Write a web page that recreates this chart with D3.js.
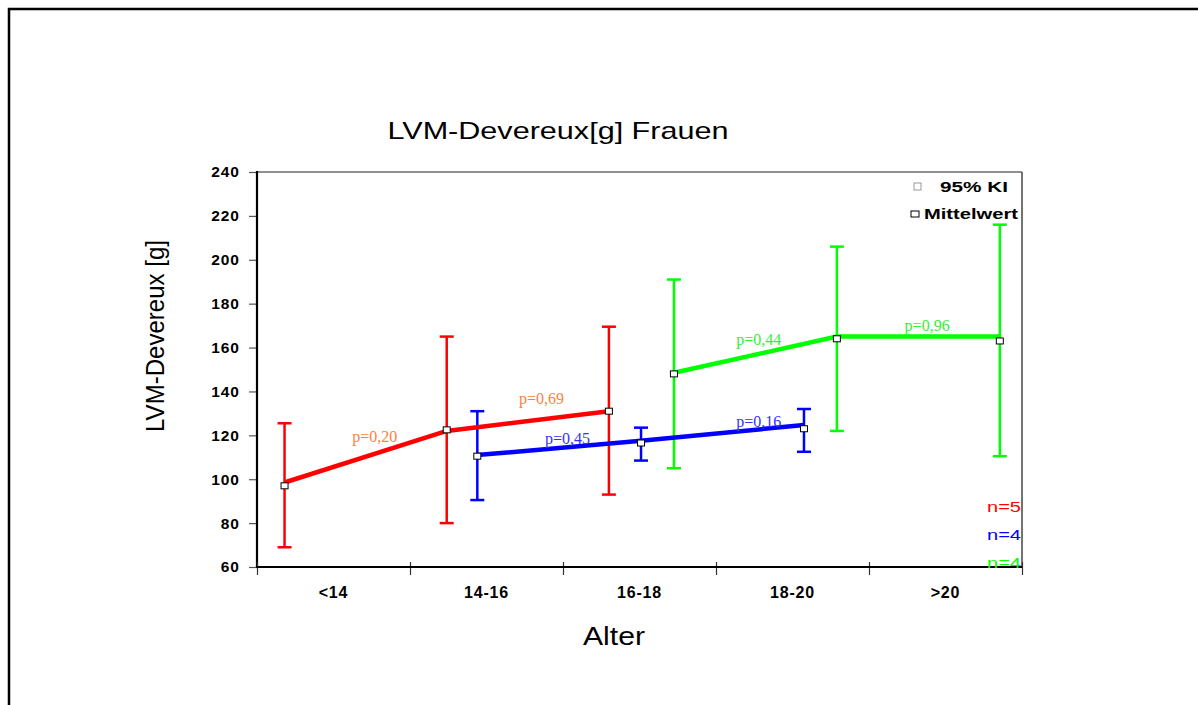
<!DOCTYPE html>
<html>
<head>
<meta charset="utf-8">
<script src="https://cdn.jsdelivr.net/npm/d3@7"></script>
<style>
  html, body { margin: 0; padding: 0; background: #fff; }
  svg { display: block; }
</style>
</head>
<body>
<svg id="chart"></svg>
<script>
// categories and tick values
const categories = ['<14', '14-16', '16-18', '18-20', '>20'];
const yTicks = [60, 80, 100, 120, 140, 160, 180, 200, 220, 240];

// series positions along the age axis (in category units) and values [g]
const redX = [0.18, 1.24, 2.30];
const redMean = [97, 122.5, 131];
const redLine = [98.5, 122, 131];
const redHi = [125.5, 165, 169.5];
const redLo = [69, 80, 93];

const blueX = [1.44, 2.51, 3.575];
const blueMean = [110.5, 116.5, 123];
const blueLine = [111, 117.5, 124.7];
const blueHi = [131, 123.5, 132];
const blueLo = [90.5, 108.5, 112.5];

const greenX = [2.725, 3.79, 4.855];
const greenMean = [148, 164, 163];
const greenLine = [148.5, 165, 165];
const greenHi = [191, 206, 216];
const greenLo = [105, 122, 110.5];

// p-value annotations
const pText = ['p=0,20', 'p=0,69', 'p=0,45', 'p=0,16', 'p=0,44', 'p=0,96'];
const pX = [0.77, 1.86, 2.03, 3.28, 3.28, 4.38];
const pY = [119.3, 137, 118.8, 126.5, 163.5, 170.3];
const pSeries = ['red', 'red', 'blue', 'blue', 'green', 'green'];

const nText = ['n=5', 'n=4', 'n=4'];

const width = 1198, height = 705;
const margin = { left: 257, right: 1022, top: 172, bottom: 567 };
const sans = "'Liberation Sans', Arial, sans-serif";
const serif = "'Liberation Serif', 'Times New Roman', serif";

const colors = { red: '#ff0000', blue: '#0000ff', green: '#00ff00' };
const labelColors = { red: '#ff8040', blue: '#3333ff', green: '#33f033' };

const svg = d3.select('#chart').attr('width', width).attr('height', height);

// outer frame (runs off right and bottom)
svg.append('path')
  .attr('d', `M9,${height + 5} L9,9 L${width + 5},9`)
  .attr('fill', 'none').attr('stroke', '#000').attr('stroke-width', 2.5);

const x = d3.scaleLinear().domain([0, 5]).range([margin.left, margin.right]);
const y = d3.scaleLinear().domain([60, 240]).range([margin.bottom, margin.top]);

// plot frame: top and right thin lines
svg.append('line').attr('x1', x(0)).attr('x2', x(5)).attr('y1', y(240)).attr('y2', y(240))
  .attr('stroke', '#222').attr('stroke-width', 1.2);
svg.append('line').attr('x1', x(5)).attr('x2', x(5)).attr('y1', y(240)).attr('y2', y(60))
  .attr('stroke', '#444').attr('stroke-width', 1.5);

// y axis
const yAxis = svg.append('g')
  .attr('transform', `translate(${margin.left},0)`)
  .call(d3.axisLeft(y).tickValues(yTicks).tickSize(8).tickPadding(9));
yAxis.select('.domain').remove();
yAxis.selectAll('.tick line').attr('stroke', '#555').attr('stroke-width', 1.2);
yAxis.selectAll('.tick text')
  .attr('font-family', sans).attr('font-size', 15.5).attr('font-weight', 'bold')
  .attr('letter-spacing', 1).attr('fill', '#000');
svg.append('line').attr('x1', x(0)).attr('x2', x(0)).attr('y1', y(240) - 1).attr('y2', y(60) + 1)
  .attr('stroke', '#000').attr('stroke-width', 2.2);

// x axis: boundary ticks, labels centred in bands
const xAxis = svg.append('g')
  .attr('transform', `translate(0,${margin.bottom})`)
  .call(d3.axisBottom(x).ticks(5).tickSize(8).tickFormat(''));
xAxis.select('.domain').remove();
xAxis.selectAll('.tick line').attr('y1', -5).attr('stroke', '#333').attr('stroke-width', 1.2);
svg.append('line').attr('x1', x(0) - 1).attr('x2', x(5)).attr('y1', y(60)).attr('y2', y(60))
  .attr('stroke', '#000').attr('stroke-width', 2);
svg.append('g').selectAll('text').data(categories).join('text')
  .attr('x', (d, i) => x(i + 0.5))
  .attr('y', margin.bottom + 31)
  .attr('text-anchor', 'middle')
  .attr('font-family', sans).attr('font-size', 16).attr('font-weight', 'bold')
  .attr('letter-spacing', 0.8)
  .text(d => d);

// titles
svg.append('text').attr('x', 558).attr('y', 139).attr('text-anchor', 'middle')
  .attr('font-family', sans).attr('font-size', 24)
  .attr('textLength', 341).attr('lengthAdjust', 'spacingAndGlyphs')
  .text('LVM-Devereux[g] Frauen');
svg.append('text').attr('x', 614).attr('y', 645).attr('text-anchor', 'middle')
  .attr('font-family', sans).attr('font-size', 25)
  .attr('textLength', 62).attr('lengthAdjust', 'spacingAndGlyphs')
  .text('Alter');
svg.append('text')
  .attr('transform', 'translate(164,336) rotate(-90)')
  .attr('text-anchor', 'middle')
  .attr('font-family', sans).attr('font-size', 25)
  .attr('textLength', 192).attr('lengthAdjust', 'spacingAndGlyphs')
  .text('LVM-Devereux [g]');

// series
const series = [
  { key: 'red', xs: redX, mean: redMean, line: redLine, hi: redHi, lo: redLo },
  { key: 'blue', xs: blueX, mean: blueMean, line: blueLine, hi: blueHi, lo: blueLo },
  { key: 'green', xs: greenX, mean: greenMean, line: greenLine, hi: greenHi, lo: greenLo }
];

const cap = 7;
const plot = svg.append('g');

series.forEach(s => {
  const g = plot.append('g');
  const c = colors[s.key];
  s.xs.forEach((xv, i) => {
    g.append('line').attr('x1', x(xv)).attr('x2', x(xv)).attr('y1', y(s.hi[i])).attr('y2', y(s.lo[i]))
      .attr('stroke', c).attr('stroke-width', 2.5);
    [s.hi[i], s.lo[i]].forEach(v => {
      g.append('line').attr('x1', x(xv) - cap).attr('x2', x(xv) + cap).attr('y1', y(v)).attr('y2', y(v))
        .attr('stroke', c).attr('stroke-width', 2.5);
    });
  });
});

const lineGen = d3.line().x(d => x(d[0])).y(d => y(d[1]));
series.forEach(s => {
  plot.append('path')
    .datum(s.xs.map((xv, i) => [xv, s.line[i]]))
    .attr('d', lineGen)
    .attr('fill', 'none').attr('stroke', colors[s.key]).attr('stroke-width', 4.5);
});

series.forEach(s => {
  plot.append('g').selectAll('rect').data(s.xs).join('rect')
    .attr('x', d => x(d) - 3.5)
    .attr('y', (d, i) => y(s.mean[i]) - 3)
    .attr('width', 7).attr('height', 6)
    .attr('fill', '#fff').attr('stroke', '#000').attr('stroke-width', 1);
});

// p-value labels
svg.append('g').selectAll('text').data(pText).join('text')
  .attr('x', (d, i) => x(pX[i]))
  .attr('y', (d, i) => y(pY[i]))
  .attr('dy', '0.35em')
  .attr('text-anchor', 'middle')
  .attr('font-family', serif).attr('font-size', 16)
  .attr('fill', (d, i) => labelColors[pSeries[i]])
  .text(d => d);

// n labels
svg.append('g').selectAll('text').data(nText).join('text')
  .attr('x', margin.right - 1)
  .attr('y', (d, i) => 512 + i * 28)
  .attr('text-anchor', 'end')
  .attr('font-family', sans).attr('font-size', 15)
  .attr('textLength', 34).attr('lengthAdjust', 'spacingAndGlyphs')
  .attr('fill', (d, i) => colors[series[i].key])
  .text(d => d);

// legend
const legend = svg.append('g');
legend.append('rect').attr('x', 914).attr('y', 183).attr('width', 7).attr('height', 7)
  .attr('fill', '#fff').attr('stroke', '#999').attr('stroke-width', 1);
legend.append('text').attr('x', 940).attr('y', 192)
  .attr('font-family', sans).attr('font-size', 14.5).attr('font-weight', 'bold')
  .attr('textLength', 68).attr('lengthAdjust', 'spacingAndGlyphs')
  .text('95% KI');
legend.append('rect').attr('x', 911).attr('y', 211).attr('width', 8).attr('height', 6)
  .attr('fill', '#fff').attr('stroke', '#000').attr('stroke-width', 1);
legend.append('text').attr('x', 924).attr('y', 219)
  .attr('font-family', sans).attr('font-size', 14.5).attr('font-weight', 'bold')
  .attr('textLength', 94).attr('lengthAdjust', 'spacingAndGlyphs')
  .text('Mittelwert');
</script>
</body>
</html>
